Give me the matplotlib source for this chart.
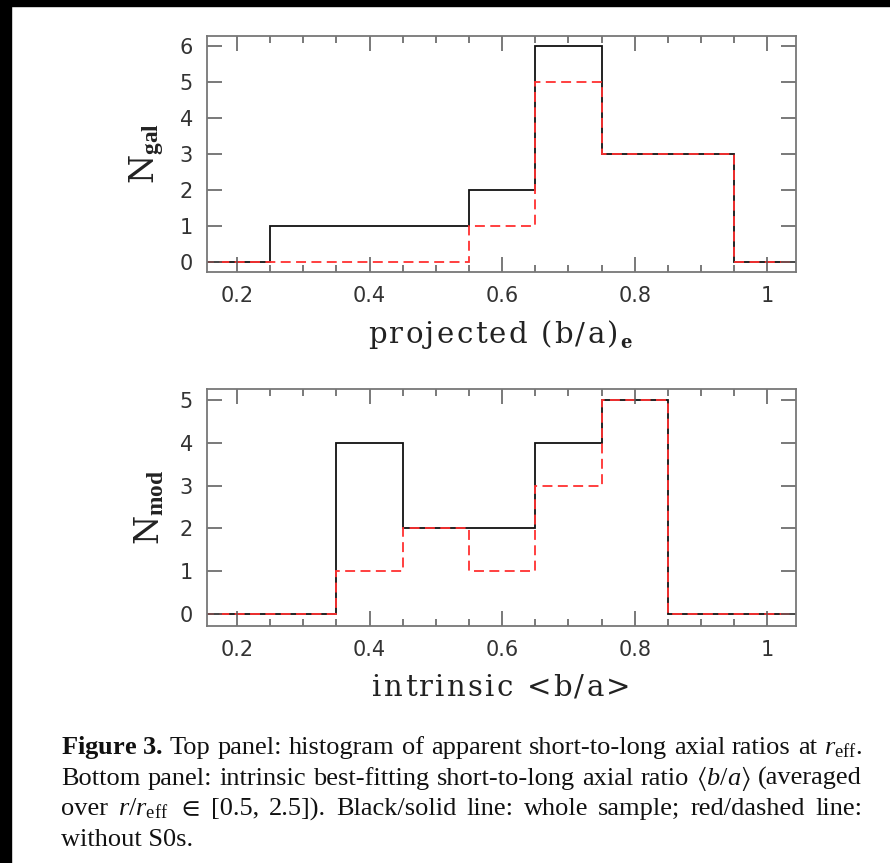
import re

import matplotlib
matplotlib.use("Agg")
import matplotlib.pyplot as plt
from matplotlib.patches import Rectangle
from matplotlib.ticker import MultipleLocator

# bin edges (width 0.1, centred on 0.2 ... 1.0)
edges = [0.15, 0.25, 0.35, 0.45, 0.55, 0.65, 0.75, 0.85, 0.95, 1.05]

# top panel: projected (b/a)_e
gal_all = [0, 1, 1, 1, 2, 6, 3, 3, 0]
gal_noS0 = [0, 0, 0, 0, 1, 5, 3, 3, 0]

# bottom panel: intrinsic <b/a>
mod_all = [0, 0, 4, 2, 2, 4, 5, 0, 0]
mod_noS0 = [0, 0, 1, 2, 1, 3, 5, 0, 0]

caption = [
    r"$\mathbf{Figure\ 3.}$ Top panel: histogram of apparent short-to-long axial ratios at $r_{\rm eff}$.",
    r"Bottom panel: intrinsic best-fitting short-to-long axial ratio $\langle b/a\rangle$ (averaged",
    r"over $r/r_{\rm eff}$ $\in$ [0.5, 2.5]). Black/solid line: whole sample; red/dashed line:",
    r"without S0s.",
]

plt.rcParams["mathtext.fontset"] = "custom"
plt.rcParams["mathtext.rm"] = "Liberation Serif"
plt.rcParams["mathtext.it"] = "Liberation Serif:italic"
plt.rcParams["mathtext.bf"] = "Liberation Serif:bold"
plt.rcParams["mathtext.fallback"] = "stix"

W, H = 890, 863
fig = plt.figure(figsize=(W / 100, H / 100), dpi=100)
renderer = fig.canvas.get_renderer()

# black frame strips from the scanned page
fig.patches.append(Rectangle((0, 1 - 6 / H), 1, 6 / H, transform=fig.transFigure, color="black", zorder=10))
fig.patches.append(Rectangle((0, 0), 11 / W, 1, transform=fig.transFigure, color="black", zorder=10))

ax_top = fig.add_axes([207 / W, 1 - 272 / H, 589 / W, 236 / H])
ax_bot = fig.add_axes([207 / W, 1 - 626 / H, 589 / W, 237 / H])

tick_font = {"family": "DejaVu Sans", "size": 15, "color": "#333333"}
label_kw = {"family": "DejaVu Serif", "size": 21, "color": "#222222"}


def text_width(s, **kw):
    t = fig.text(0, 0, s, **kw)
    w = t.get_window_extent(renderer).width
    t.remove()
    return w


def tracked_text(s, xc, y, track, **kw):
    # PGPLOT-style label: characters spread out with extra tracking
    base = text_width("||", **kw)
    adv = [text_width("|" + c + "|", **kw) - base for c in s]
    x = xc - (sum(adv) + track * (len(s) - 1)) / 2
    for c, a in zip(s, adv):
        if c != " ":
            fig.text((x + a / 2) / W, 1 - y / H, c, ha="center", va="baseline", **kw)
        x += a + track
    return x


def justified_line(s, x0, x1, y, **kw):
    # split on spaces but keep $...$ chunks whole
    words = re.findall(r"\$[^$]*\$\S*|\S+", s)
    texts = [fig.text(0, 1 - y / H, w, va="baseline", **kw) for w in words]
    widths = [t.get_window_extent(renderer).width for t in texts]
    gap = (x1 - x0 - sum(widths)) / (len(words) - 1)
    x = x0
    for t, w in zip(texts, widths):
        t.set_x(x / W)
        x += w + gap


def style_axis(ax, ymax, ylabel):
    ax.set_xlim(0.155, 1.043)
    ax.set_ylim(-0.28, ymax)
    ax.xaxis.set_minor_locator(MultipleLocator(0.05))
    ax.tick_params(which="both", direction="in", top=True, right=True, color="#555555", width=1.1)
    ax.tick_params(which="major", length=10.5)
    ax.tick_params(which="minor", length=5)
    ax.tick_params(axis="x", pad=10)
    ax.tick_params(axis="y", pad=10)
    for s in ax.spines.values():
        s.set_color("#777777")
        s.set_linewidth(1.3)
    ax.set_xticks([0.2, 0.4, 0.6, 0.8, 1.0])
    ax.set_xticklabels(["0.2", "0.4", "0.6", "0.8", "1"], fontdict=tick_font)
    yt = list(range(0, int(ymax) + 1))
    ax.set_yticks(yt)
    ax.set_yticklabels([str(v) for v in yt], fontdict=tick_font)
    ax.set_ylabel(ylabel, fontdict={"family": "DejaVu Serif", "size": 24, "color": "#222222"}, labelpad=10)


dash = (0, (5.5, 3))

ax_top.stairs(gal_all, edges, color="#111111", linewidth=1.3)
ax_top.stairs(gal_noS0, edges, color="#ff3030", linewidth=1.3, linestyle=dash)
style_axis(ax_top, 6.28, r"N$_{\mathbf{gal}}$")

ax_bot.stairs(mod_all, edges, color="#111111", linewidth=1.3)
ax_bot.stairs(mod_noS0, edges, color="#ff3030", linewidth=1.3, linestyle=dash)
style_axis(ax_bot, 5.26, r"N$_{\mathbf{mod}}$")

# x labels, centred under the axes
xc = (207 + 796) / 2
x_end = tracked_text("projected (b/a)", xc - 8, 343, 2.3, **label_kw)
fig.text((x_end - 1) / W, 1 - 348 / H, "e", ha="left", va="baseline",
         family="DejaVu Serif", size=13, weight="bold", color="#222222")
tracked_text("intrinsic <b/a>", xc, 696, 2.3, **label_kw)

cap_kw = {"family": "Liberation Serif", "size": 19, "color": "#111111"}
y = 754
for line in caption[:3]:
    justified_line(line, 61, 862, y, **cap_kw)
    y += 30.7
fig.text(61 / W, 1 - y / H, caption[3], va="baseline", **cap_kw)

fig.savefig("out.png", dpi=100)
